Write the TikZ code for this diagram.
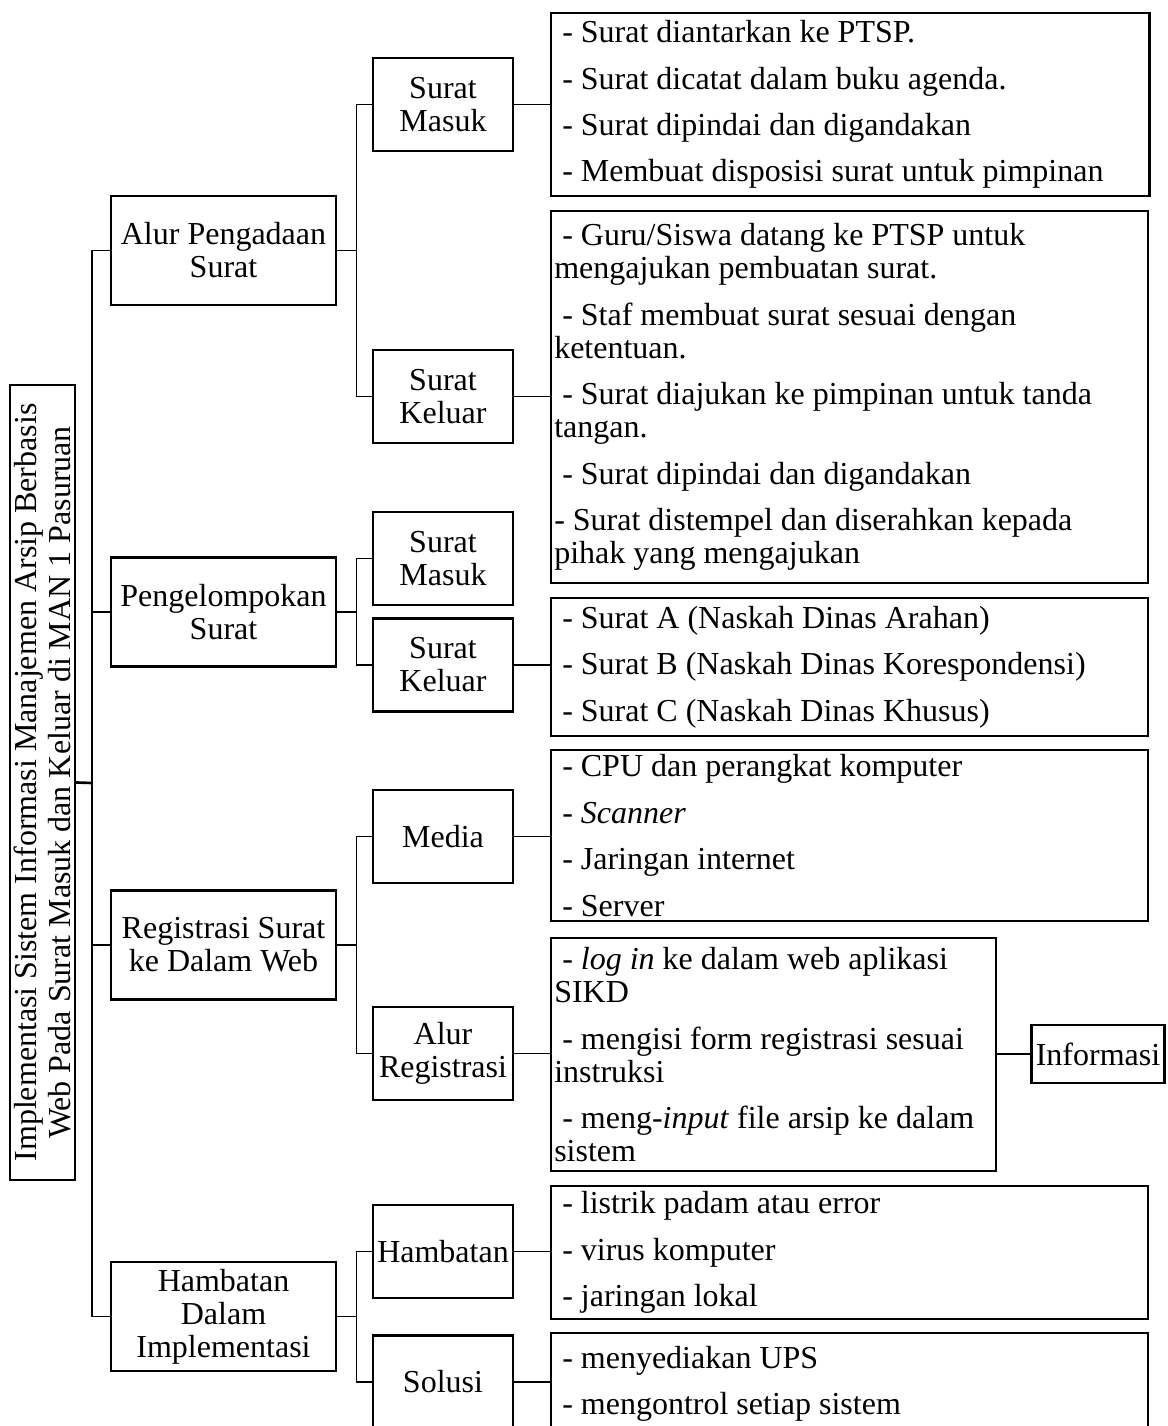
\documentclass[tikz,border=0pt]{standalone}
\usepackage{fontspec}
\setmainfont{Liberation Serif}
\setlength{\parindent}{0pt}
\newcommand{\boxfont}{\fontsize{12pt}{12.4pt}\selectfont}
\newcommand{\lspace}{\hspace*{0.25em}}
\begin{document}
\begin{tikzpicture}[x=0.375pt,y=0.375pt,yscale=-1,
    link/.style={line width=0.45pt},
    spine/.style={line width=1pt},
    frame/.style={draw,line width=0.8pt,font=\boxfont},
    rootbox/.style={frame,align=center,inner sep=0pt,minimum width=298.1pt,minimum height=24.4pt},
    lvlone/.style={frame,align=center,inner sep=1pt,minimum width=84.4pt,minimum height=40.9pt},
    lvltwo/.style={frame,align=center,inner sep=0.5pt,minimum width=52.5pt,minimum height=34.9pt},
    listbox/.style={frame,anchor=north west,align=flush left,inner xsep=1.2pt,inner ysep=0pt,text width=#1},
    listbox/.default=221.5pt]
\useasboundingbox (0,0) rectangle (1167,1426);
% Root Node
\node[rootbox,rotate=90] (root) at (42.5,782.5) {Implementasi Sistem Informasi Manajemen Arsip Berbasis\\Web Pada Surat Masuk dan Keluar di MAN 1 Pasuruan};
% Level One Nodes
\node[lvlone] (alur) at (223.5,250.5) {Alur Pengadaan\\Surat};
\node[lvlone] (kelompok) at (223.5,612) {Pengelompokan\\Surat};
\node[lvlone] (registrasi) at (223.5,945) {Registrasi Surat\\ke Dalam Web};
\node[lvlone] (kendala) at (223.5,1316.5) {Hambatan\\Dalam\\Implementasi};
% Level Two Nodes
\node[lvltwo] (masukA) at (443,104.5) {Surat\\Masuk};
\node[lvltwo] (keluarA) at (443,396.5) {Surat\\Keluar};
\node[lvltwo] (masukB) at (443,558.5) {Surat\\Masuk};
\node[lvltwo] (keluarB) at (443,665) {Surat\\Keluar};
\node[lvltwo] (media) at (443,836.5) {Media};
\node[lvltwo] (alurreg) at (443,1053.5) {Alur\\Registrasi};
\node[lvltwo] (hambatan) at (443,1251.5) {Hambatan};
\node[lvltwo] (solusi) at (443,1382) {Solusi};
% Level Three Lists
\node[listbox=222pt,minimum height=68.6pt] (listmasuk) at (550,12) {%
\lspace- Surat diantarkan ke PTSP.\\[5pt]
\lspace- Surat dicatat dalam buku agenda.\\[5pt]
\lspace- Surat dipindai dan digandakan\\[5pt]
\lspace- Membuat disposisi surat untuk pimpinan};
\node[listbox,minimum height=139.5pt] (listkeluar) at (550,210) {%
\lspace- Guru/Siswa datang ke PTSP untuk\\
mengajukan pembuatan surat.\\[5pt]
\lspace- Staf membuat surat sesuai dengan\\
ketentuan.\\[5pt]
\lspace- Surat diajukan ke pimpinan untuk tanda\\
tangan.\\[5pt]
\lspace- Surat dipindai dan digandakan\\[5pt]
- Surat distempel dan diserahkan kepada\\
pihak yang mengajukan};
\node[listbox,minimum height=51.75pt] (listjenis) at (550,597) {%
\lspace- Surat A (Naskah Dinas Arahan)\\[5pt]
\lspace- Surat B (Naskah Dinas Korespondensi)\\[5pt]
\lspace- Surat C (Naskah Dinas Khusus)};
\node[listbox,minimum height=64.1pt] (listmedia) at (550,749) {%
\lspace- CPU dan perangkat komputer\\[5pt]
\lspace- \textit{Scanner}\\[5pt]
\lspace- Jaringan internet\\[5pt]
\lspace- Server};
\node[listbox=164.5pt,minimum height=87.4pt] (listreg) at (550,937) {%
\lspace- \textit{log in} ke dalam web aplikasi\\
SIKD\\[5pt]
\lspace- mengisi form registrasi sesuai\\
instruksi\\[5pt]
\lspace- meng-\textit{input} file arsip ke dalam\\
sistem};
\node[listbox,minimum height=49.9pt] (listhambat) at (550,1185) {%
\lspace- listrik padam atau error\\[5pt]
\lspace- virus komputer\\[5pt]
\lspace- jaringan lokal};
\node[listbox,minimum height=38.25pt] (listsolusi) at (550,1332) {%
\lspace- menyediakan UPS\\[5pt]
\lspace- mengontrol setiap sistem};
% Output Node
\node[frame,inner sep=0.5pt,minimum width=49.9pt,minimum height=21.75pt] (informasi) at (1098,1054) {Informasi};
% Trunk
\coordinate (trunk) at (92,783);
\draw[link] (trunk) |- (alur.west);
\draw[link] (trunk) |- (kelompok.west);
\draw[link] (trunk) |- (registrasi.west);
\draw[link] (trunk) |- (kendala.west);
\draw[spine] (root.south) -- (trunk);
\draw[spine] (kelompok.west -| trunk) -- (registrasi.west -| trunk);
% Branches
\draw[link] (alur.east) -- ++(19,0) coordinate (ba);
\draw[link] (ba) |- (masukA.west);
\draw[link] (ba) |- (keluarA.west);
\draw[link] (kelompok.east) -- ++(19,0) coordinate (bb);
\draw[link] (bb) |- (masukB.west);
\draw[link] (bb) |- (keluarB.west);
\draw[link] (registrasi.east) -- ++(19,0) coordinate (bc);
\draw[link] (bc) |- (media.west);
\draw[link] (bc) |- (alurreg.west);
\draw[link] (kendala.east) -- ++(19,0) coordinate (bd);
\draw[link] (bd) |- (hambatan.west);
\draw[link] (bd) |- (solusi.west);
% Lists
\draw[link] (masukA.east) -- (masukA.east -| listmasuk.west);
\draw[link] (keluarA.east) -- (keluarA.east -| listkeluar.west);
\draw[link] (keluarB.east) -- (keluarB.east -| listjenis.west);
\draw[link] (media.east) -- (media.east -| listmedia.west);
\draw[link] (alurreg.east) -- (alurreg.east -| listreg.west);
\draw[link] (hambatan.east) -- (hambatan.east -| listhambat.west);
\draw[link] (solusi.east) -- (solusi.east -| listsolusi.west);
\draw[link] (listreg.east |- informasi.west) -- (informasi.west);
\end{tikzpicture}
\end{document}
